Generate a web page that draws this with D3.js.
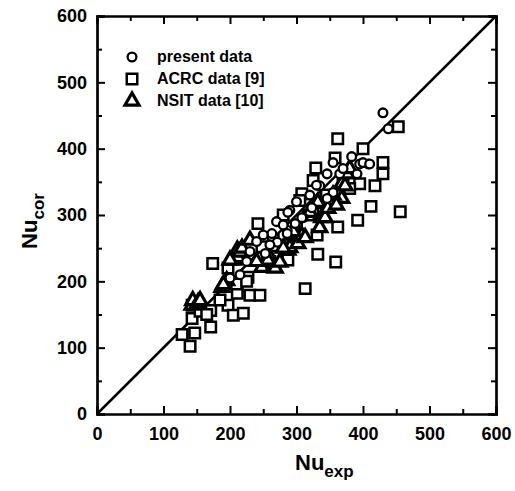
<!DOCTYPE html>
<html>
<head>
<meta charset="utf-8">
<script src="https://cdn.jsdelivr.net/npm/d3@7"></script>
<style>
  body { margin: 0; background: #fff; }
  svg { font-family: "Liberation Sans", Arial, sans-serif; }
</style>
</head>
<body>
<svg id="chart" width="515" height="491"></svg>
<script>
// [Nu_exp, Nu_cor] pairs
let present_data = [
  [430,454],[438,430],[395,377],[408,377],[391,362],[383,388],[355,379],[400,379],
  [410,377],[346,362],[365,362],[335,344],[355,334],[346,325],[323,311],[310,296],
  [290,307],[286,277],[287,304],[308,296],[263,272],[271,259],[298,287],[253,242],
  [286,272],[240,260],[250,270],[270,290],[230,245],[225,230],[215,210],[200,205],
  [320,330],[300,320],[330,345],[370,370],[260,255],[280,285]
]
let acrc_data = [
  [140,102],[147,122],[128,120],[143,164],[143,144],[171,131],[171,156],[174,227],
  [197,220],[197,164],[205,149],[220,152],[227,206],[230,179],[211,182],[245,179],
  [242,287],[287,232],[313,189],[332,241],[359,229],[362,415],[453,433],[400,400],
  [358,386],[329,371],[430,379],[430,362],[418,344],[395,347],[412,313],[456,305],
  [392,292],[362,282],[331,270],[308,332],[305,322],[325,352],[248,252],[265,262],
  [280,300],[300,280],[270,238],[290,255],[318,300],[345,330],[380,340],[300,260],
  [210,196],[185,172],[155,155],[165,150],[340,310],[370,355],[260,230],[225,200]
]
let nsit_data = [
  [143,164],[144,171],[152,168],[155,171],[188,191],[195,201],[190,195],[205,232],
  [205,235],[212,236],[211,247],[215,244],[218,250],[230,262],[200,232],[248,221],
  [260,236],[265,221],[257,232],[268,220],[275,229],[287,247],[290,251],[302,257],
  [305,269],[308,269],[313,266],[320,304],[331,317],[332,319],[335,281],[338,296],
  [343,296],[347,310],[368,325],[368,347],[373,344],[376,362],[355,330],[360,315],
  [380,370],[240,230],[280,250],[295,275]
]
let major_ticks = [0, 100, 200, 300, 400, 500, 600]
let minor_ticks = [50, 150, 250, 350, 450, 550]
let legend_labels = ["present data", "ACRC data [9]", "NSIT data [10]"]

let svg = d3.select("#chart")

let x = d3.scaleLinear().domain([0, 600]).range([97, 496])
let y = d3.scaleLinear().domain([0, 600]).range([414, 16])

let symbols = [d3.symbolCircle, d3.symbolSquare, d3.symbolTriangle]
let sizes = [60, 110, 85]
let strokes = [2.3, 2.5, 3.2]

function draw_axes() {
  let bottom = d3.axisBottom(x).tickValues(major_ticks).tickSize(-8).tickPadding(13)
  let left = d3.axisLeft(y).tickValues(major_ticks).tickSize(-8).tickPadding(10)
  let top = d3.axisTop(x).tickValues(major_ticks).tickSize(-8).tickFormat("")
  let right = d3.axisRight(y).tickValues(major_ticks).tickSize(-8).tickFormat("")

  svg.append("g").attr("transform", "translate(0,414)").call(bottom)
  svg.append("g").attr("transform", "translate(97,0)").call(left)
  svg.append("g").attr("transform", "translate(0,16)").call(top)
  svg.append("g").attr("transform", "translate(496,0)").call(right)

  svg.append("g").attr("transform", "translate(0,414)")
    .call(d3.axisBottom(x).tickValues(minor_ticks).tickSize(-5).tickFormat(""))
  svg.append("g").attr("transform", "translate(97,0)")
    .call(d3.axisLeft(y).tickValues(minor_ticks).tickSize(-5).tickFormat(""))
  svg.append("g").attr("transform", "translate(0,16)")
    .call(d3.axisTop(x).tickValues(minor_ticks).tickSize(-5).tickFormat(""))
  svg.append("g").attr("transform", "translate(496,0)")
    .call(d3.axisRight(y).tickValues(minor_ticks).tickSize(-5).tickFormat(""))

  svg.selectAll(".domain").attr("stroke", "#000").attr("stroke-width", 2.2)
  svg.selectAll(".tick line").attr("stroke", "#000").attr("stroke-width", 2)
  svg.selectAll(".tick text")
    .attr("font-size", 18).attr("font-weight", "bold")
    .attr("font-family", "Liberation Sans, Arial, sans-serif").attr("fill", "#000")
}

function draw_points(data, i) {
  svg.append("g").selectAll("path")
    .data(data).enter()
    .append("path")
    .attr("transform", d => `translate(${x(d[0])},${y(d[1])})`)
    .attr("d", d3.symbol().type(symbols[i]).size(sizes[i]))
    .attr("fill", "#fff")
    .attr("stroke", "#000")
    .attr("stroke-width", strokes[i])
}

draw_axes()

// 1:1 line
svg.append("line")
  .attr("x1", x(0)).attr("y1", y(0))
  .attr("x2", x(600)).attr("y2", y(600))
  .attr("stroke", "#000").attr("stroke-width", 2.5)

draw_points(acrc_data, 1)
draw_points(nsit_data, 2)
draw_points(present_data, 0)

// legend
let leg = svg.append("g")
legend_labels.forEach((label, i) => {
  let ly = 58 + i * 22
  leg.append("path")
    .attr("transform", `translate(132,${ly - 1})`)
    .attr("d", d3.symbol().type(symbols[i]).size(sizes[i]))
    .attr("fill", "#fff").attr("stroke", "#000")
    .attr("stroke-width", strokes[i])
  leg.append("text")
    .attr("x", 157).attr("y", ly + 4)
    .attr("font-size", 16).attr("font-weight", "bold")
    .text(label)
})

// axis titles
let xt = svg.append("text")
  .attr("x", 295).attr("y", 470)
  .attr("font-size", 22).attr("font-weight", "bold")
xt.append("tspan").text("Nu")
xt.append("tspan").attr("dy", 7).attr("font-size", 17).text("exp")

let yt = svg.append("text")
  .attr("transform", "translate(37,221) rotate(-90)")
  .attr("text-anchor", "middle")
  .attr("font-size", 22).attr("font-weight", "bold")
yt.append("tspan").text("Nu")
yt.append("tspan").attr("dy", 7).attr("font-size", 17).text("cor")
</script>
</body>
</html>
